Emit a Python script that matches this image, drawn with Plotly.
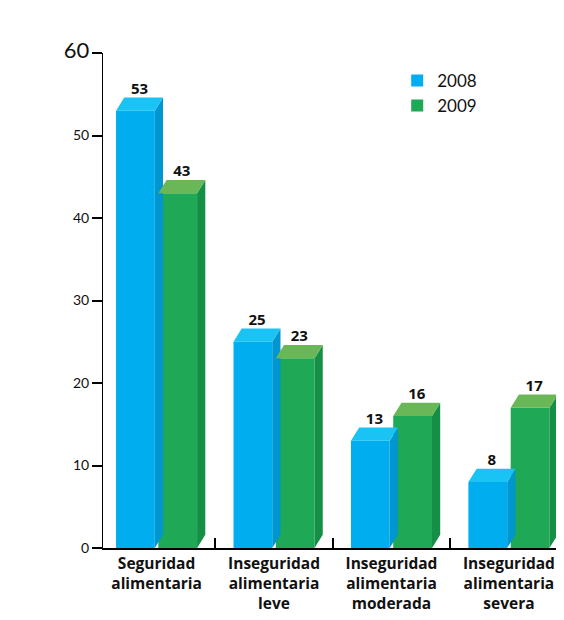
import plotly.graph_objects as go

categories = ["Seguridad<br>alimentaria", "Inseguridad<br>alimentaria<br>leve",
              "Inseguridad<br>alimentaria<br>moderada", "Inseguridad<br>alimentaria<br>severa"]
years = ["2008", "2009"]
values_2008 = [53, 25, 13, 8]
values_2009 = [43, 23, 16, 17]
y_ticks = [0, 10, 20, 30, 40, 50, 60]

front = {"2008": "#00AEEF", "2009": "#1FA855"}
side = {"2008": "#0096CF", "2009": "#168F46"}
top = {"2008": "#19C3F3", "2009": "#6AB757"}

bar_w = 0.33
depth_x = 0.07
depth_y = 1.6
offsets = {"2008": -0.18, "2009": 0.18}

fig = go.Figure()
xs = list(range(len(categories)))
label_traces = []
for yr, vals in zip(years, [values_2008, values_2009]):
    cx = [x + offsets[yr] for x in xs]
    for c, v in zip(cx, vals):
        r = c + bar_w / 2
        l = c - bar_w / 2
        fig.add_trace(go.Scatter(x=[r, r + depth_x, r + depth_x, r, r], y=[0, depth_y, v + depth_y, v, 0],
                                 fill="toself", mode="lines", line=dict(width=0), fillcolor=side[yr],
                                 showlegend=False, hoverinfo="skip"))
        fig.add_trace(go.Scatter(x=[l, r, r + depth_x, l + depth_x, l], y=[v, v, v + depth_y, v + depth_y, v],
                                 fill="toself", mode="lines", line=dict(width=0), fillcolor=top[yr],
                                 showlegend=False, hoverinfo="skip"))
    fig.add_trace(go.Bar(x=cx, y=vals, width=bar_w, name=yr, marker=dict(color=front[yr], line=dict(width=0)),
                         hoverinfo="y"))
    label_traces.append(go.Scatter(x=[c + depth_x / 2 for c in cx], y=[v + depth_y for v in vals],
                                   mode="text", text=["<b>%d</b>" % v for v in vals], textposition="top center",
                                   textfont=dict(family="Open Sans", size=15, color="#111"),
                                   showlegend=False, hoverinfo="skip", cliponaxis=False))
for t in label_traces:
    fig.add_trace(t)

fig.update_layout(
    width=564, height=620,
    margin=dict(l=95, r=2, t=45, b=80),
    paper_bgcolor="white", plot_bgcolor="white",
    barmode="overlay",
    font=dict(family="Open Sans", color="#111"),
    legend=dict(x=0.63, y=0.98, xanchor="left", yanchor="top", font=dict(size=17, family="Lato"),
                bgcolor="rgba(0,0,0,0)", itemwidth=30, tracegroupgap=2),
)
fig.update_xaxes(
    range=[-0.456, 3.52], tickvals=xs, ticktext=["<b>%s</b>" % c for c in categories],
    tickfont=dict(size=15.5, family="Open Sans"), showline=True, linecolor="black", linewidth=2,
    ticks="", showgrid=False, zeroline=False,
    minor=dict(tickvals=[0.5, 1.5, 2.5], ticks="inside", ticklen=10, tickwidth=2, tickcolor="black"),
)
fig.update_yaxes(
    range=[0, 60], tickvals=y_ticks,
    ticktext=[("<span style='font-size:22px'>%d</span>" % t) if t == 60 else str(t) for t in y_ticks],
    tickfont=dict(size=14, family="Lato"), showline=True, linecolor="black", linewidth=1,
    ticks="outside", ticklen=10, tickwidth=2, tickcolor="black", showgrid=False, zeroline=False,
)
fig.write_html("out.html")
